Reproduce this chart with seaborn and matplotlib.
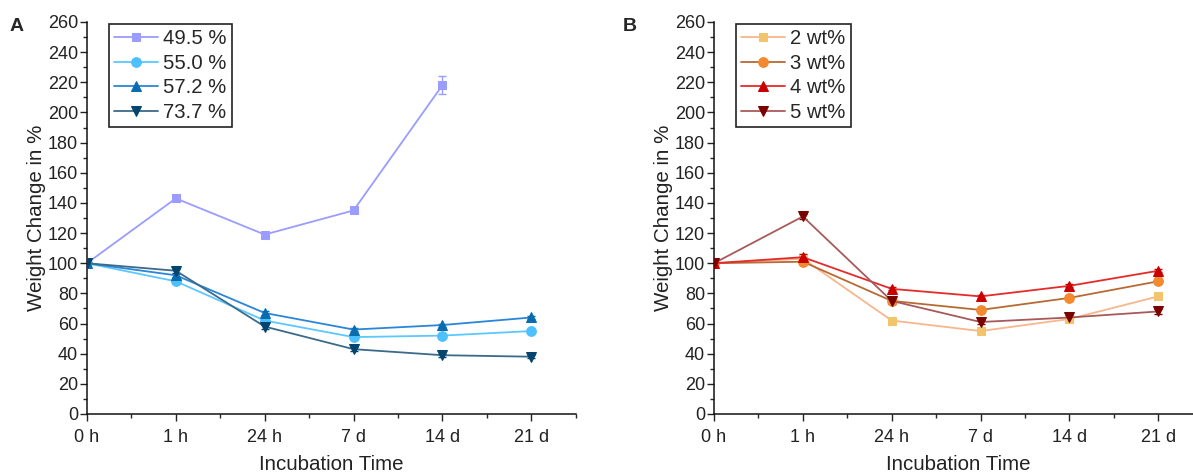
import numpy as np
import pandas as pd
import matplotlib
matplotlib.use("Agg")
import matplotlib.pyplot as plt
import seaborn as sns
from matplotlib.ticker import MultipleLocator

# Time points (categorical x axis)
times = ["0 h", "1 h", "24 h", "7 d", "14 d", "21 d"]

# Panel A: weight change for different water contents
labels_a = ["49.5 %", "55.0 %", "57.2 %", "73.7 %"]
a_495 = [100, 143, 119, 135, 218]
a_550 = [100, 88, 62, 51, 52, 55]
a_572 = [100, 92, 67, 56, 59, 64]
a_737 = [100, 95, 58, 43, 39, 38]
err_a_495 = [1, 2, 1, 1.5, 6]
err_a_550 = [1, 1, 1, 1, 1, 1]
err_a_572 = [1, 1, 1.5, 1, 1, 1]
err_a_737 = [1, 1.5, 1.5, 1.5, 1, 1]

# Panel B: weight change for different concentrations
labels_b = ["2 wt%", "3 wt%", "4 wt%", "5 wt%"]
b_2 = [100, 103, 62, 55, 63, 78]
b_3 = [100, 101, 75, 69, 77, 88]
b_4 = [100, 104, 83, 78, 85, 95]
b_5 = [100, 131, 75, 61, 64, 68]
err_b_2 = [1, 3, 1, 1, 1, 1]
err_b_3 = [1, 1, 1, 1, 1, 1]
err_b_4 = [1, 2, 1, 1, 1, 1]
err_b_5 = [1, 1.5, 2, 1.5, 1.5, 1.5]

sns.set_style("ticks")
plt.rcParams["font.family"] = ["Liberation Sans", "DejaVu Sans"]

fig = plt.figure(figsize=(11.93, 4.74), dpi=100)
ax_a = fig.add_axes([0.0729, 0.1266, 0.4096, 0.827])
ax_b = fig.add_axes([0.5985, 0.1266, 0.4096, 0.827])

markers = ["s", "o", "^", "v"]
sizes = [6, 7, 7, 7]

style_a = [("#9a9cff", "#9a9cff"), ("#5cc8ff", "#4dc0ff"),
           ("#2a86d8", "#0a6cb0"), ("#3b6a8a", "#04456f")]
style_b = [("#f7b68c", "#f2c46c"), ("#b86a34", "#f28a30"),
           ("#e52a2a", "#c80000"), ("#a85a5a", "#7a0000")]


def draw(ax, series, errs, labels, styles):
    for vals, err, lab, (lc, mc), mk, ms in zip(series, errs, labels, styles, markers, sizes):
        x = np.arange(len(vals))
        ax.errorbar(x, vals, yerr=err, fmt="none", ecolor=mc, elinewidth=1,
                    capsize=3, zorder=2)
        sns.lineplot(x=x, y=vals, ax=ax, color=lc, marker=mk, markersize=ms,
                     markerfacecolor=mc, markeredgecolor=mc, linewidth=1.3,
                     label=lab, zorder=3)
    ax.set_xlim(0, 5.5)
    ax.set_ylim(0, 260)
    ax.set_xticks(range(len(times)))
    ax.set_xticklabels(times)
    ax.xaxis.set_minor_locator(MultipleLocator(0.5))
    ax.yaxis.set_major_locator(MultipleLocator(20))
    ax.yaxis.set_minor_locator(MultipleLocator(10))
    ax.tick_params(which="major", direction="out", length=5, width=1,
                   labelsize=13, colors="#222222")
    ax.tick_params(axis="y", which="major", pad=1.5)
    ax.tick_params(axis="x", which="major", pad=6)
    ax.tick_params(which="minor", direction="out", length=3, width=1)
    for s in ["top", "right"]:
        ax.spines[s].set_visible(False)
    for s in ["left", "bottom"]:
        ax.spines[s].set_linewidth(1.1)
        ax.spines[s].set_color("#111111")
    ax.set_xlabel("Incubation Time", fontsize=14.8, color="#222222")
    ax.set_ylabel("Weight Change in %", fontsize=14.8, color="#222222")
    ax.xaxis.set_label_coords(0.5, -0.105)
    ax.yaxis.set_label_coords(-0.084, 0.5)
    leg = ax.legend(loc="upper left", bbox_to_anchor=(0.04, 1.0),
                    fontsize=14.6, frameon=True, fancybox=False,
                    edgecolor="#222222", framealpha=1, borderpad=0.25,
                    labelspacing=0.28, handlelength=2.2, handletextpad=0.25,
                    borderaxespad=0.1)
    leg.get_frame().set_linewidth(1.2)


draw(ax_a, [a_495, a_550, a_572, a_737],
     [err_a_495, err_a_550, err_a_572, err_a_737], labels_a, style_a)
draw(ax_b, [b_2, b_3, b_4, b_5],
     [err_b_2, err_b_3, err_b_4, err_b_5], labels_b, style_b)

fig.text(0.008, 0.935, "A", fontsize=14, fontweight="bold")
fig.text(0.522, 0.935, "B", fontsize=14, fontweight="bold")

fig.savefig("out.png", dpi=100)
